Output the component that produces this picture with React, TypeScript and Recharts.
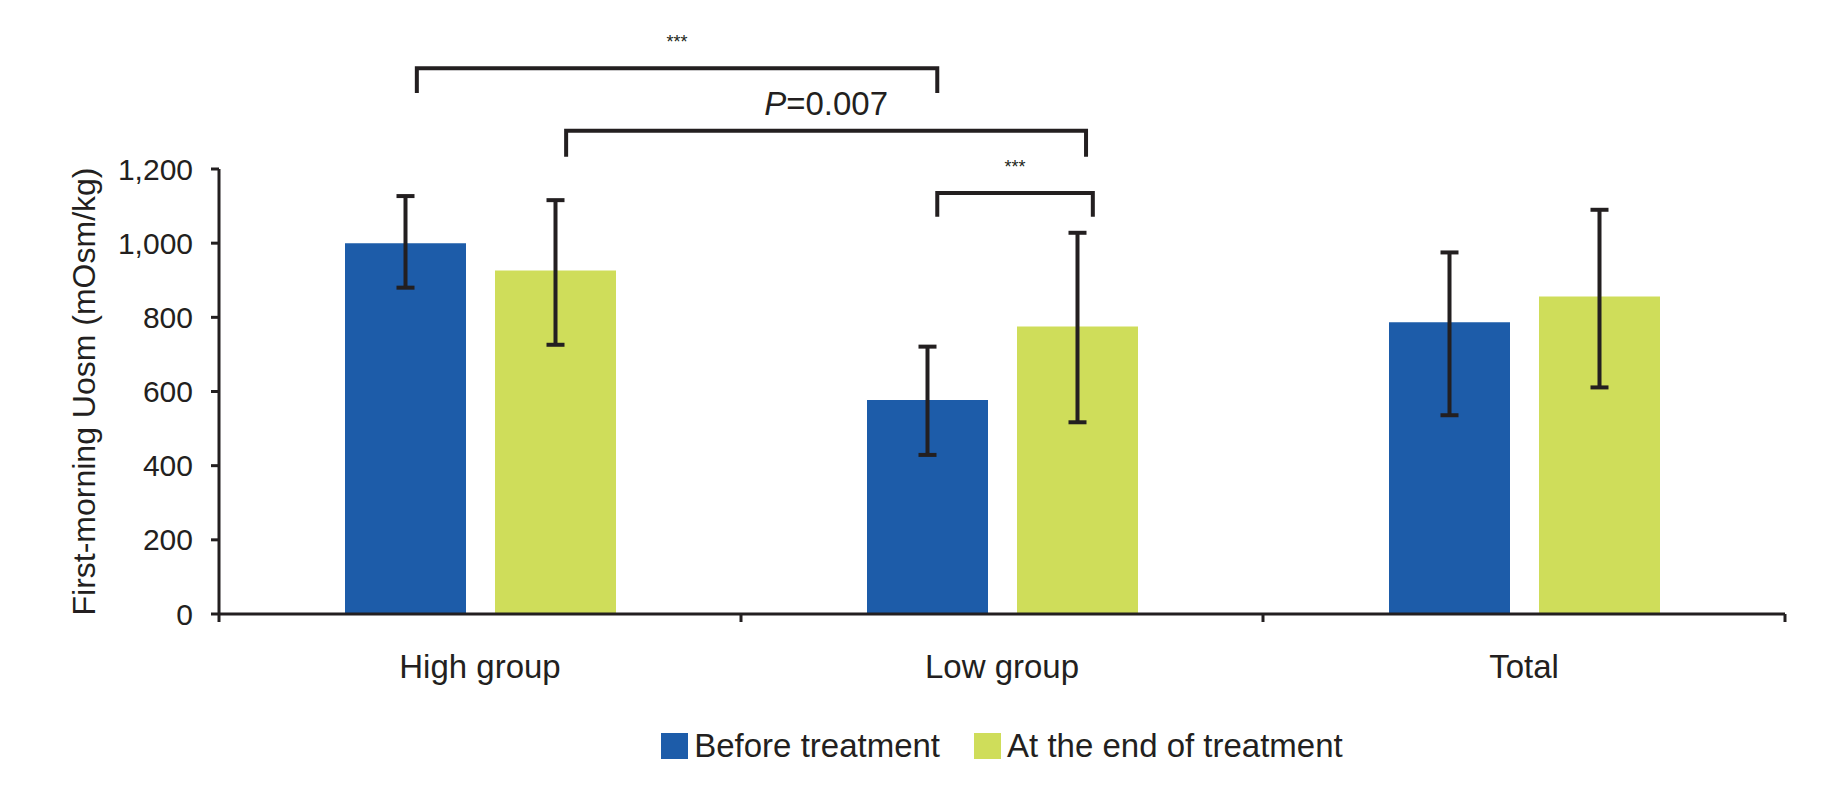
import * as R from "recharts";
import { BarChart, Bar, XAxis, YAxis, ErrorBar, Legend, Label } from "recharts";

const groups = ["High group", "Low group", "Total"];
const seriesNames = ["Before treatment", "At the end of treatment"];
const before = [1000, 577, 787];
const after = [926, 775, 856];
// [below, above] the mean
const beforeErr = [[120, 127], [148, 144], [251, 188]];
const afterErr = [[200, 190], [258, 253], [245, 234]];
const yTicks = [0, 200, 400, 600, 800, 1000, 1200];
const Y_MAX = 1200;

// significance brackets, x in category units (0..3), y in mOsm/kg
const brackets = [
  { x1: 0.379, x2: 1.376, y: 1472, legY: 1405, text: "***" },
  { x1: 0.665, x2: 1.661, y: 1303, legY: 1233, text: "P=0.007" },
  { x1: 1.376, x2: 1.674, y: 1135, legY: 1071, text: "***" },
];

const data = groups.map((group, i) => ({
  group,
  before: before[i],
  after: after[i],
  beforeErr: beforeErr[i],
  afterErr: afterErr[i],
}));

const INK = "#231f20";
const BLUE = "#1d5ca9";
const GREEN = "#cfdd5a";
const FONT = "'Liberation Sans', Arial, sans-serif";
const CAT_GAP = 41;

const usePlot = () => {
  const anyR = R as any;
  if (anyR.usePlotArea) return anyR.usePlotArea();
  const off = anyR.useOffset();
  const w = anyR.useChartWidth();
  const h = anyR.useChartHeight();
  if (!off || !w || !h) return null;
  return { x: off.left, y: off.top, width: w - off.left - off.right, height: h - off.top - off.bottom };
};

const Brackets = () => {
  const area = usePlot();
  if (!area) return null;
  const sx = (u: number) => area.x + (u / groups.length) * area.width;
  const sy = (v: number) => area.y + area.height * (1 - v / Y_MAX);
  return (
    <g>
      {brackets.map((b, i) => {
        const x1 = sx(b.x1);
        const x2 = sx(b.x2);
        const y = sy(b.y);
        const leg = sy(b.legY);
        const cx = (x1 + x2) / 2;
        return (
          <g key={i}>
            <path
              d={`M${x1},${leg} L${x1},${y} L${x2},${y} L${x2},${leg}`}
              fill="none"
              stroke={INK}
              strokeWidth={4}
            />
            {b.text === "***" ? (
              <text x={cx} y={y - 20} textAnchor="middle" fontSize={18} fill={INK} fontFamily={FONT}>
                ***
              </text>
            ) : (
              <text x={cx} y={y - 16} textAnchor="middle" fontSize={33} fill={INK} fontFamily={FONT}>
                <tspan fontStyle="italic">{b.text.slice(0, 1)}</tspan>
                {b.text.slice(1)}
              </text>
            )}
          </g>
        );
      })}
    </g>
  );
};

const CatTick = (props: any) => {
  const { x, y, payload, index, visibleTicksCount } = props;
  const axisY = y - CAT_GAP;
  const half = payload.offset ?? 0;
  return (
    <g>
      <line x1={x - half} x2={x - half} y1={axisY} y2={axisY + 8} stroke={INK} strokeWidth={3} />
      {index === visibleTicksCount - 1 && (
        <line x1={x + half} x2={x + half} y1={axisY} y2={axisY + 8} stroke={INK} strokeWidth={3} />
      )}
      <text x={x} y={y} dy="0.71em" textAnchor="middle" fontSize={33} fill={INK} fontFamily={FONT}>
        {payload.value}
      </text>
    </g>
  );
};

const yLabel = (props: any) => {
  const { viewBox } = props;
  const x = viewBox.x + 64;
  const y = viewBox.y + viewBox.height / 2;
  return (
    <text
      x={x}
      y={y}
      transform={`rotate(-90, ${x}, ${y})`}
      textAnchor="middle"
      dominantBaseline="central"
      fontSize={32}
      fill={INK}
      fontFamily={FONT}
    >
      First-morning Uosm (mOsm/kg)
    </text>
  );
};

const renderLegend = (props: any) => {
  const items = [...props.payload].sort(
    (a: any, b: any) => seriesNames.indexOf(a.value) - seriesNames.indexOf(b.value)
  );
  return (
    <div style={{ display: "flex", justifyContent: "center", alignItems: "center", gap: 34 }}>
      {items.map((item: any) => (
        <div key={item.value} style={{ display: "flex", alignItems: "center", gap: 6 }}>
          <span style={{ display: "inline-block", width: 27, height: 26, background: item.color }} />
          <span style={{ fontSize: 33, color: INK, fontFamily: FONT, lineHeight: "40px" }}>{item.value}</span>
        </div>
      ))}
    </div>
  );
};

const App = () => {
  return (
    <div style={{ position: "absolute", left: 0, top: 0, width: 1840, height: 795, background: "#fff", fontFamily: FONT }}>
      <BarChart
        width={1840}
        height={795}
        data={data}
        margin={{ top: 169, right: 55, bottom: 81, left: 20 }}
        barGap={29}
        barSize={121}
      >
        <XAxis
          dataKey="group"
          axisLine={{ stroke: INK, strokeWidth: 3 }}
          tickLine={false}
          tickSize={0}
          tickMargin={CAT_GAP}
          height={100}
          tick={<CatTick />}
        />
        <YAxis
          domain={[0, Y_MAX]}
          ticks={yTicks}
          width={199}
          tickSize={8}
          tickMargin={18}
          tickFormatter={(v: number) => v.toLocaleString("en-US")}
          axisLine={{ stroke: INK, strokeWidth: 3 }}
          tickLine={{ stroke: INK, strokeWidth: 3 }}
          tick={{ fontSize: 30, fill: INK, fontFamily: FONT }}
        >
          <Label content={yLabel} />
        </YAxis>
        <Legend
          verticalAlign="middle"
          content={renderLegend}
          wrapperStyle={{ top: 726, left: 219, width: 1566 }}
        />
        <Bar dataKey="before" name={seriesNames[0]} fill={BLUE} isAnimationActive={false}>
          <ErrorBar dataKey="beforeErr" width={9} strokeWidth={4} stroke={INK} />
        </Bar>
        <Bar dataKey="after" name={seriesNames[1]} fill={GREEN} isAnimationActive={false}>
          <ErrorBar dataKey="afterErr" width={9} strokeWidth={4} stroke={INK} />
        </Bar>
        <Brackets />
      </BarChart>
    </div>
  );
};

export default App;
